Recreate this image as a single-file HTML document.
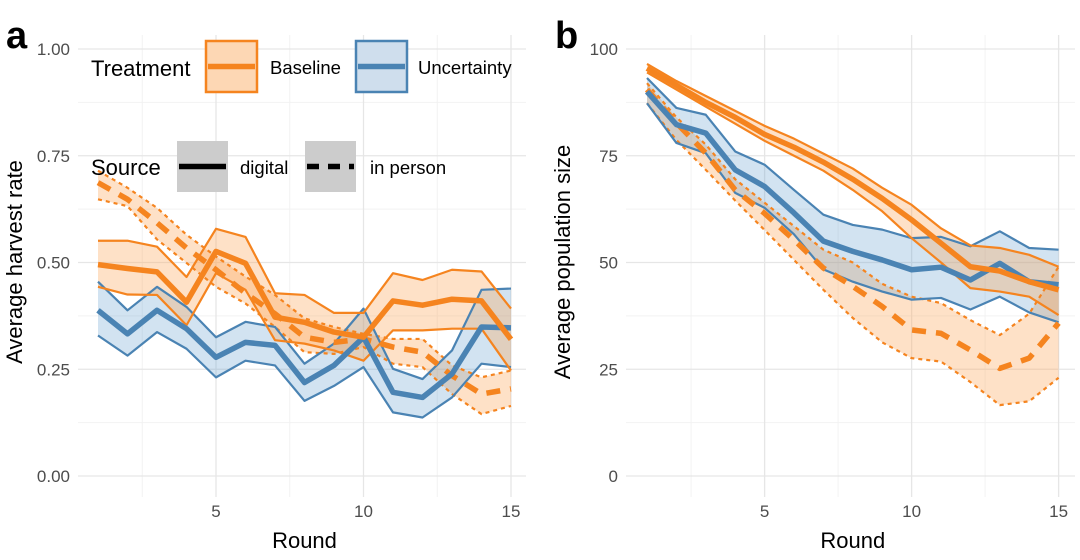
<!DOCTYPE html>
<html><head><meta charset="utf-8"><style>
html,body{margin:0;padding:0;background:#fff;}
svg text{font-family:"Liberation Sans",sans-serif;}
</style></head><body>
<svg id="fig" width="1080" height="555" viewBox="0 0 1080 555" xmlns="http://www.w3.org/2000/svg">
<g id="pa"></g>
<g id="pb"></g>
<text x="6" y="48" font-size="38" font-weight="bold">a</text>
<text x="555" y="48" font-size="38" font-weight="bold">b</text>
</svg>
<script>
const rounds=[1,2,3,4,5,6,7,8,9,10,11,12,13,14,15];
const xTicks=[5,10,15];
const aTicks=[0,0.25,0.5,0.75,1];
const aTickLabels=["0.00","0.25","0.50","0.75","1.00"];
const bTicks=[0,25,50,75,100];
const bTickLabels=["0","25","50","75","100"];
// Panel a: harvest rate
const aBaseDigMean=[0.495,0.486,0.478,0.407,0.526,0.498,0.372,0.36,0.337,0.325,0.41,0.40,0.414,0.41,0.32];
const aBaseDigHi=[0.551,0.551,0.537,0.466,0.579,0.56,0.428,0.424,0.382,0.382,0.475,0.459,0.483,0.479,0.392];
const aBaseDigLo=[0.443,0.425,0.424,0.353,0.475,0.436,0.318,0.31,0.294,0.27,0.341,0.341,0.345,0.345,0.247];
const aBasePerMean=[0.687,0.648,0.593,0.534,0.483,0.428,0.38,0.325,0.313,0.321,0.302,0.29,0.235,0.192,0.204];
const aBasePerHi=[0.715,0.675,0.628,0.565,0.514,0.467,0.424,0.369,0.349,0.333,0.321,0.321,0.259,0.231,0.247];
const aBasePerLo=[0.648,0.632,0.554,0.499,0.443,0.404,0.349,0.29,0.286,0.302,0.263,0.255,0.192,0.145,0.164];
const aUncDigMean=[0.388,0.333,0.388,0.345,0.278,0.313,0.306,0.219,0.259,0.325,0.196,0.184,0.239,0.349,0.347];
const aUncDigHi=[0.455,0.388,0.443,0.396,0.325,0.361,0.349,0.263,0.31,0.392,0.251,0.227,0.294,0.436,0.439];
const aUncDigLo=[0.329,0.282,0.337,0.298,0.231,0.27,0.259,0.176,0.211,0.255,0.149,0.137,0.184,0.263,0.255];
// Panel b: population size
const bBaseDigMean=[95.5,91.5,87.5,84,80,77,73.5,69.5,65,60,54.5,49,48,45.5,43.6];
const bBaseDigHi=[96.5,92.5,89,85.5,82,79,75.5,72,67.5,63.5,58,54,53.4,51.8,49];
const bBaseDigLo=[94.5,90.5,86.5,82.5,78.5,75,71.5,67,62,55.7,50,44,43.2,42,37.7];
const bBasePerMean=[90.5,82.7,75.6,67,61.5,55.3,48.7,44.4,39.7,34.2,33.4,29.5,25.2,27.6,35.8];
const bBasePerHi=[92,84,77.6,69.5,64,58.5,53,50,45,42,40.5,36.5,33,38,49];
const bBasePerLo=[87.3,78.7,71.7,64.5,57.6,50.6,43.6,37,31.3,27.6,26.8,22,16.6,17.5,23];
const bUncDigMean=[90,82.3,80.3,71.7,67.8,61.6,55,52.6,50.6,48.3,48.9,45.9,49.8,45.5,44.8];
const bUncDigHi=[93.2,86.2,84.6,76,72.9,67,61.2,58.8,57.7,55.7,56,53.8,57.3,53.4,53];
const bUncDigLo=[87.3,78,75.6,66.3,62.8,56.6,48.4,45.5,43.2,41.3,41.7,39,42,38.3,36];

const NS="http://www.w3.org/2000/svg";
const OR="#F5841F", BL="#4A83B3";
function mk(tag,attrs,parent){const e=document.createElementNS(NS,tag);for(const k in attrs)e.setAttribute(k,attrs[k]);parent.appendChild(e);return e;}

function panel(g,opt){
  const xs=r=>opt.x0+(r-1)*opt.dx;
  const ys=v=>opt.yBot-(v-opt.vmin)/(opt.vmax-opt.vmin)*(opt.yBot-opt.yTop);
  for(let i=0;i<opt.ticks.length-1;i++){
    const v=(opt.ticks[i]+opt.ticks[i+1])/2;
    const l=mk('line',{x1:opt.gx0,x2:opt.gx1,y1:ys(v),y2:ys(v),stroke:'#f2f2f2','stroke-width':1},g);
    
    
  }
  [2.5,7.5,12.5].forEach(r=>{
    const l=mk('line',{x1:xs(r),x2:xs(r),y1:opt.gy0,y2:opt.gy1,stroke:'#f2f2f2','stroke-width':1},g);
    
    
  });
  opt.ticks.forEach((v,i)=>{
    const l=mk('line',{x1:opt.gx0,x2:opt.gx1,y1:ys(v),y2:ys(v),stroke:'#e6e6e6','stroke-width':1.3},g);
    
    
    const t=mk('text',{x:opt.labX,y:ys(v)+6,'font-size':17,fill:'#4d4d4d','text-anchor':'end'},g);
    t.textContent=opt.tickLabels[i];
    
    
  });
  xTicks.forEach(r=>{
    const l=mk('line',{x1:xs(r),x2:xs(r),y1:opt.gy0,y2:opt.gy1,stroke:'#e6e6e6','stroke-width':1.3},g);
    
    
    const t=mk('text',{x:xs(r),y:517,'font-size':17,fill:'#4d4d4d','text-anchor':'middle'},g);
    t.textContent=r;
    
    
  });
  const xt=mk('text',{x:(xs(1)+xs(15))/2,y:548,'font-size':22,fill:'#000','text-anchor':'middle'},g);
  xt.textContent='Round';
  
  
  const yt=mk('text',{x:0,y:0,'font-size':22,fill:'#000','text-anchor':'middle',transform:`translate(${opt.titleX},262) rotate(-90)`},g);
  yt.textContent=opt.title;
  
  
  const pts=a=>a.map((v,i)=>xs(rounds[i])+','+ys(v));
  opt.series.forEach(s=>{
    const p=mk('polygon',{points:pts(s.hi).concat(pts(s.lo).reverse()).join(' '),fill:s.fill,stroke:'none'},g);
    
    
  });
  opt.series.forEach(s=>{
    [s.hi,s.lo].forEach((arr,j)=>{
      const l=mk('polyline',{points:pts(arr).join(' '),fill:'none',stroke:s.col,'stroke-width':2.2,'stroke-dasharray':s.dash?'4 4':'none','stroke-linejoin':'round'},g);
      
      
    });
  });
  opt.series.forEach(s=>{
    const l=mk('polyline',{points:pts(s.mean).join(' '),fill:'none',stroke:s.col,'stroke-width':5.5,'stroke-dasharray':s.dash?'14 10':'none','stroke-linejoin':'round'},g);
    
    
  });
}
const OF='rgba(253,170,95,0.35)', BF='rgba(90,150,205,0.27)';
panel(document.getElementById('pa'),{x0:98,dx:29.5,yTop:49,yBot:476,vmin:0,vmax:1,gx0:78,gx1:526,gy0:35,gy1:497,labX:70,titleX:22,
  ticks:aTicks,tickLabels:aTickLabels,title:'Average harvest rate',
  series:[
   {name:'baseline-in-person',mean:aBasePerMean,hi:aBasePerHi,lo:aBasePerLo,col:OR,fill:OF,dash:true},
   {name:'uncertainty-digital',mean:aUncDigMean,hi:aUncDigHi,lo:aUncDigLo,col:BL,fill:BF,dash:false},
   {name:'baseline-digital',mean:aBaseDigMean,hi:aBaseDigHi,lo:aBaseDigLo,col:OR,fill:OF,dash:false}]});
panel(document.getElementById('pb'),{x0:647,dx:29.4,yTop:49,yBot:476,vmin:0,vmax:100,gx0:626,gx1:1075,gy0:35,gy1:497,labX:618,titleX:570,
  ticks:bTicks,tickLabels:bTickLabels,title:'Average population size',
  series:[
   {name:'baseline-in-person',mean:bBasePerMean,hi:bBasePerHi,lo:bBasePerLo,col:OR,fill:OF,dash:true},
   {name:'uncertainty-digital',mean:bUncDigMean,hi:bUncDigHi,lo:bUncDigLo,col:BL,fill:BF,dash:false},
   {name:'baseline-digital',mean:bBaseDigMean,hi:bBaseDigHi,lo:bBaseDigLo,col:OR,fill:OF,dash:false}]});
</script>
<svg width="1080" height="555" style="position:absolute;left:0;top:0" xmlns="http://www.w3.org/2000/svg">
<g>
<text x="91" y="76" font-size="22">Treatment</text>
<g>
<rect x="206" y="41" width="51" height="51" fill="#fdd7b4" stroke="#F5841F" stroke-width="2.5"/>
<line x1="208" x2="255" y1="66.5" y2="66.5" stroke="#F5841F" stroke-width="5.5"/>
<text x="270" y="74" font-size="18.5">Baseline</text></g>
<g>
<rect x="356" y="41" width="51" height="51" fill="#cfdeed" stroke="#4A83B3" stroke-width="2.5"/>
<line x1="358" x2="405" y1="66.5" y2="66.5" stroke="#4A83B3" stroke-width="5.5"/>
<text x="418" y="74" font-size="18.5">Uncertainty</text></g>
</g>
<g>
<text x="91" y="175" font-size="22">Source</text>
<g>
<rect x="177" y="141" width="51" height="51" fill="#cccccc"/>
<line x1="179" x2="226" y1="166.5" y2="166.5" stroke="#000" stroke-width="5.5"/>
<text x="240" y="174" font-size="18.5">digital</text></g>
<g>
<rect x="305" y="141" width="51" height="51" fill="#cccccc"/>
<line x1="307" x2="354" y1="166.5" y2="166.5" stroke="#000" stroke-width="5.5" stroke-dasharray="12 9"/>
<text x="370" y="174" font-size="18.5">in person</text></g>
</g>
</svg>
</body></html>
